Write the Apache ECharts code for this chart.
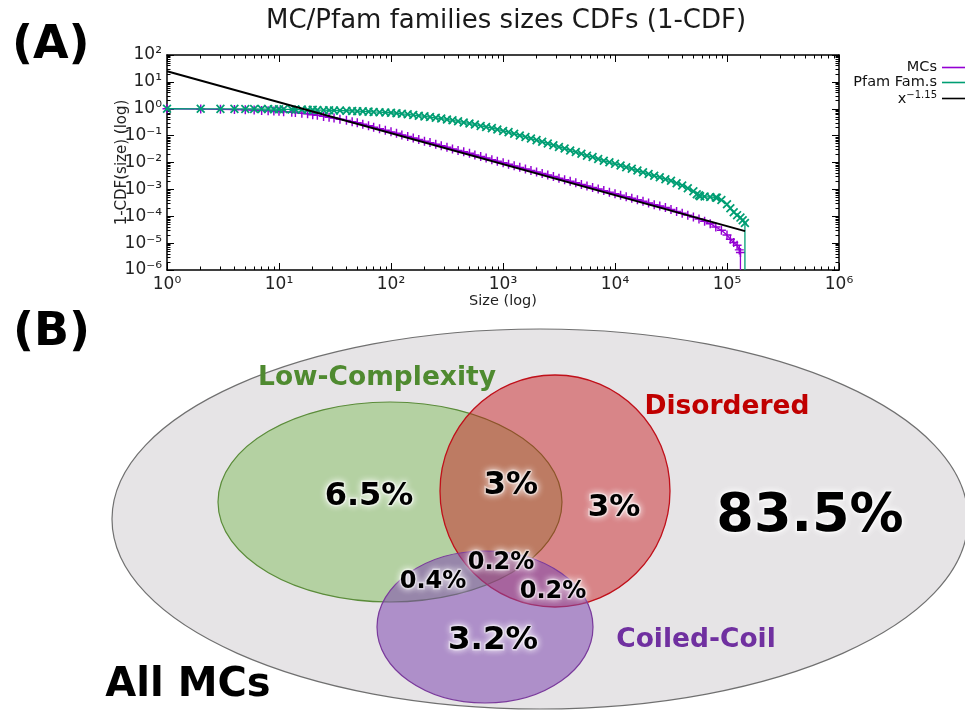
<!DOCTYPE html>
<html>
<head>
<meta charset="utf-8">
<script src="https://cdn.jsdelivr.net/npm/echarts@6/dist/echarts.min.js"></script>
<style>
  html, body { margin: 0; padding: 0; background: #fff; }
  #chart { width: 965px; height: 710px; }
</style>
</head>
<body>
<div id="chart"></div>
<script>
// ---- Panel A: complementary CDFs of family sizes (log-log) ----
const mcSizes = [1,2,3,4,5,6,7,8,9,10,
  11,13,14,16,18,20,22,25,28,31,35,40,45,50,56,63,70,79,89,100,
  112,125,141,158,177,199,223,251,281,316,354,397,446,502,561,632,707,795,890,1003,
  1121,1258,1412,1586,1777,1994,2238,2511,2819,3160,3549,3980,4466,5013,5621,6309,7081,7942,8915,10004,
  11218,12587,14122,15851,17785,19950,22391,25117,28180,31620,35484,39806,44671,50115,56231,63092,70799,79430,89120,99996,
  107150,114810,123020,128820,131830,131830];
const mcCcdf = [1.0,0.97,0.95,0.93,0.91,0.89,0.87,0.85,0.83,0.80,
  0.78,0.74,0.72,0.68,0.65,0.60,0.57,0.52,0.48,0.45,0.41,0.37,0.33,0.30,0.266,0.234,0.205,0.18,0.158,0.138,
  0.122,0.106,0.093,0.081,0.072,0.062,0.055,0.048,0.042,0.037,0.032,0.028,0.025,0.022,0.019,0.0166,0.0146,0.0127,0.0112,0.0098,
  0.0086,0.0075,0.0066,0.0057,0.0050,0.0044,0.0039,0.0034,0.0030,0.0026,0.0023,0.0020,0.00175,0.00153,0.00134,0.00117,0.00103,0.0009,0.00079,0.00069,
  0.00061,0.00053,0.00047,0.00041,0.00036,0.00031,0.00027,0.00024,0.00021,0.00018,0.00015,0.00013,0.00011,0.000093,0.000079,0.000065,0.000053,0.00004,0.00003,0.00002,
  0.000014,0.0000105,0.0000083,0.0000056,0.0000045,0.000001];

const pfamSizes = [1,2,3,4,5,6,7,8,9,10,
  11,13,14,16,18,20,22,25,28,31,35,40,45,50,56,63,70,79,89,100,
  112,125,141,158,177,199,223,251,281,316,354,397,446,502,561,632,707,795,890,1003,
  1121,1258,1412,1586,1777,1994,2238,2511,2819,3160,3549,3980,4466,5013,5621,6309,7081,7942,8915,10004,
  11218,12587,14122,15851,17785,19950,22391,25117,28180,31620,
  35484,39806,44671,50115,53700,56231,57540,63092,70799,79430,81280,89120,99996,107150,114810,123020,131830,138040,144540,144540];
const pfamCcdf = [1.0,0.995,0.99,0.99,0.985,0.98,0.975,0.97,0.965,0.96,
  0.955,0.944,0.933,0.927,0.918,0.908,0.897,0.887,0.877,0.865,0.855,0.841,0.828,0.813,0.798,0.782,0.764,0.745,0.726,0.71,
  0.68,0.65,0.62,0.58,0.55,0.52,0.49,0.46,0.43,0.40,0.37,0.34,0.31,0.28,0.26,0.23,0.21,0.19,0.17,0.15,
  0.135,0.117,0.102,0.089,0.078,0.068,0.059,0.051,0.044,0.038,0.033,0.028,0.0245,0.021,0.018,0.016,0.0136,0.0117,0.0102,0.0089,
  0.0078,0.0067,0.0058,0.005,0.0043,0.0037,0.0032,0.0028,0.0024,0.0021,
  0.0017,0.0014,0.0011,0.00085,0.00066,0.0006,0.00056,0.00054,0.00052,0.0005,0.00049,0.0004,0.00028,0.0002,0.00014,0.00011,0.000089,0.000071,0.000056,0.000001];

// power-law reference x^-1.15 (straight on log-log)
const fitSizes = [1, 145000];
const fitCcdf = [25, 2.8e-5];

const xTickExponents = [0, 1, 2, 3, 4, 5, 6];
const xTickLabels = ['10⁰', '10¹', '10²', '10³', '10⁴', '10⁵', '10⁶'];
const yTickExponents = [-6, -5, -4, -3, -2, -1, 0, 1, 2];
const yTickLabels = ['10⁻⁶', '10⁻⁵', '10⁻⁴', '10⁻³', '10⁻²', '10⁻¹', '10⁰', '10¹', '10²'];
const minorMultipliers = [2, 3, 4, 5, 6, 7, 8, 9];

const seriesNames = ['MCs', 'Pfam Fam.s', 'x^-1.15'];

// ---- Panel B: overlap of MC annotations ----
const vennSetNames = ['All MCs', 'Low-Complexity', 'Disordered', 'Coiled-Coil'];
const regionShares = [83.5, 6.5, 3, 3, 0.2, 0.4, 0.2, 3.2];

// ---------------------------------------------------------------------------
const FONT = '"DejaVu Sans", "Noto Sans", sans-serif';
const Y_FLOOR = 1e-6;

function decadeMinors(lo, hi) {
  const out = [];
  for (let e = lo; e < hi; e++) minorMultipliers.forEach(m => out.push(+(m * Math.pow(10, e)).toPrecision(6)));
  return out;
}
const xMinor = decadeMinors(xTickExponents[0], xTickExponents[xTickExponents.length - 1]);
const yMinor = decadeMinors(yTickExponents[0], yTickExponents[yTickExponents.length - 1]);

const xLabelFor = v => xTickLabels[Math.round(Math.log10(v)) - xTickExponents[0]];
const yLabelFor = v => yTickLabels[Math.round(Math.log10(v)) - yTickExponents[0]];

function toPoints(xs, ys) {
  return xs.map((x, i) => ys[i] <= Y_FLOOR ? { value: [x, ys[i]], symbol: 'none' } : [x, ys[i]]);
}

const PLUS = 'path://M0,4.2H10V5.8H0Z M4.2,0H5.8V10H4.2Z';

function frameAxis(dim, position, minor, extra) {
  const isX = dim === 'x';
  const ax = {
    type: 'log', logBase: 10, gridIndex: 0, position: position,
    min: isX ? 1 : 1e-6, max: isX ? 1e6 : 100,
    splitNumber: isX ? 6 : 8,
    axisLine: { show: !minor, onZero: false, lineStyle: { color: '#000', width: 1.5 } },
    axisTick: { show: true, inside: true, length: minor ? 3.5 : 7, lineStyle: { color: '#000', width: 1 } },
    axisLabel: { show: false },
    splitLine: { show: false },
    minorTick: { show: false }
  };
  if (minor) ax.axisTick.customValues = isX ? xMinor : yMinor;
  return Object.assign(ax, extra || {});
}

const xAxes = [
  frameAxis('x', 'bottom', false, {
    axisLabel: { show: true, formatter: xLabelFor, fontFamily: FONT, fontSize: 17, color: '#222', margin: 6 },
    name: 'Size (log)', nameLocation: 'middle', nameGap: 24, nameMoveOverlap: false,
    nameTextStyle: { fontFamily: FONT, fontSize: 14.5, color: '#222' }
  }),
  frameAxis('x', 'bottom', true),
  frameAxis('x', 'top', false),
  frameAxis('x', 'top', true),
  { type: 'value', gridIndex: 1, min: 0, max: 965, show: false }
];
const yAxes = [
  frameAxis('y', 'left', false, {
    axisLabel: { show: true, formatter: yLabelFor, fontFamily: FONT, fontSize: 17, color: '#222', margin: 5 },
    name: '1-CDF(size) (log)', nameLocation: 'middle', nameGap: 37, nameMoveOverlap: false,
    nameTextStyle: { fontFamily: FONT, fontSize: 15, color: '#222' }
  }),
  frameAxis('y', 'left', true),
  frameAxis('y', 'right', false),
  frameAxis('y', 'right', true),
  { type: 'value', gridIndex: 1, min: 0, max: 400, inverse: true, show: false }
];

// Venn geometry in diagram units: [cx, cy, rx, ry]
const vennShapes = [
  [540, 209, 428, 190],
  [390, 192, 172, 100],
  [555, 181, 115, 116],
  [485, 317, 108, 76]
];
const vennStyles = [
  { fill: '#e6e4e6', stroke: '#707070', lineWidth: 1.2 },
  { fill: '#b4d1a2', stroke: '#5b8c3a', lineWidth: 1.2 },
  { fill: 'rgba(200,18,22,0.45)', stroke: '#c0101a', lineWidth: 1.3 },
  { fill: 'rgba(128,72,176,0.55)', stroke: '#7a3a9c', lineWidth: 1.2 }
];
const setLabelPos = [[188, 376], [377, 68], [727, 97], [696, 330]];
const setLabelColors = ['#000', '#4f8a30', '#c00000', '#7030a0'];
const setLabelSizes = [40, 26.5, 26.5, 26.5];
const regionLabelPos = [[810, 207], [369, 187], [511, 176], [614, 198], [501, 253], [433, 272], [553, 282], [493, 331]];
const regionLabelSizes = [54, 32, 32, 31, 24, 24, 24, 32.5];

const chart = echarts.init(document.getElementById('chart'), null, { renderer: 'canvas' });

chart.setOption({
  animation: false,
  backgroundColor: '#fff',
  title: {
    text: 'MC/Pfam families sizes CDFs (1-CDF)',
    left: 261, top: 3,
    textStyle: { fontFamily: FONT, fontWeight: 'normal', fontSize: 26, color: '#1a1a1a' }
  },
  legend: {
    orient: 'vertical', right: -12, top: 55, align: 'right',
    itemWidth: 30, itemHeight: 1.6, itemGap: 0, selectedMode: false,
    data: seriesNames.map(n => ({ name: n, icon: 'rect' })),
    formatter: n => n === seriesNames[2] ? '{b|x}{s|−1.15}' : n,
    textStyle: {
      fontFamily: FONT, fontSize: 14.5, color: '#111', lineHeight: 14,
      rich: {
        b: { fontFamily: FONT, fontSize: 14.5, lineHeight: 17, verticalAlign: 'bottom', color: '#111' },
        s: { fontFamily: FONT, fontSize: 10, lineHeight: 17, verticalAlign: 'top', color: '#111' }
      }
    }
  },
  grid: [
    { left: 167, top: 55, width: 672, height: 215 },
    { left: 0, top: 310, width: 965, height: 400 }
  ],
  xAxis: xAxes,
  yAxis: yAxes,
  graphic: [
    { type: 'text', left: 12, top: 23, style: { text: '(A)', font: 'bold 46px ' + FONT, fill: '#000' } },
    { type: 'text', left: 13, top: 310, style: { text: '(B)', font: 'bold 46px ' + FONT, fill: '#000' } }
  ],
  series: [
    {
      name: seriesNames[0], type: 'line', xAxisIndex: 0, yAxisIndex: 0,
      data: toPoints(mcSizes, mcCcdf),
      symbol: PLUS, symbolSize: 9, showSymbol: true,
      color: '#9400d3',
      lineStyle: { width: 1.3, color: '#9400d3' },
      itemStyle: { color: '#9400d3' },
      z: 2
    },
    {
      name: seriesNames[1], type: 'line', xAxisIndex: 0, yAxisIndex: 0,
      data: toPoints(pfamSizes, pfamCcdf),
      symbol: PLUS, symbolSize: 11, symbolRotate: 45, showSymbol: true,
      color: '#009e73',
      lineStyle: { width: 1.3, color: '#009e73' },
      itemStyle: { color: '#009e73' },
      z: 3
    },
    {
      name: seriesNames[2], type: 'line', xAxisIndex: 0, yAxisIndex: 0,
      data: toPoints(fitSizes, fitCcdf),
      symbol: 'none', color: '#000',
      lineStyle: { width: 2, color: '#000' },
      z: 4
    },
    {
      type: 'custom', xAxisIndex: 4, yAxisIndex: 4,
      data: vennShapes,
      encode: { x: 0, y: 1 },
      renderItem: (params, api) => {
        const c = api.coord([api.value(0), api.value(1)]);
        const s = api.size([api.value(2), api.value(3)]);
        return {
          type: 'ellipse',
          shape: { cx: c[0], cy: c[1], rx: s[0], ry: s[1] },
          style: vennStyles[params.dataIndex]
        };
      },
      silent: true, z: 1
    },
    {
      type: 'scatter', xAxisIndex: 4, yAxisIndex: 4,
      symbolSize: 0, silent: true, z: 6,
      itemStyle: { opacity: 1 },
      data: vennSetNames.map((n, i) => ({
        name: n, value: setLabelPos[i],
        label: { fontSize: setLabelSizes[i], color: setLabelColors[i] }
      })),
      label: {
        show: true, position: 'inside', formatter: p => p.name,
        fontFamily: FONT, fontWeight: 'bold', opacity: 1
      }
    },
    {
      type: 'scatter', xAxisIndex: 4, yAxisIndex: 4,
      symbolSize: 0, silent: true, z: 7,
      itemStyle: { opacity: 1 },
      data: regionShares.map((v, i) => ({
        value: [regionLabelPos[i][0], regionLabelPos[i][1], v],
        label: { fontSize: regionLabelSizes[i] }
      })),
      label: {
        show: true, position: 'inside', formatter: p => p.value[2] + '%',
        fontFamily: FONT, fontWeight: 'bold', color: '#000', opacity: 1,
        textBorderColor: 'rgba(255,255,255,0.45)', textBorderWidth: 3,
        textShadowColor: '#fff', textShadowBlur: 7
      }
    }
  ]
});
</script>
</body>
</html>
